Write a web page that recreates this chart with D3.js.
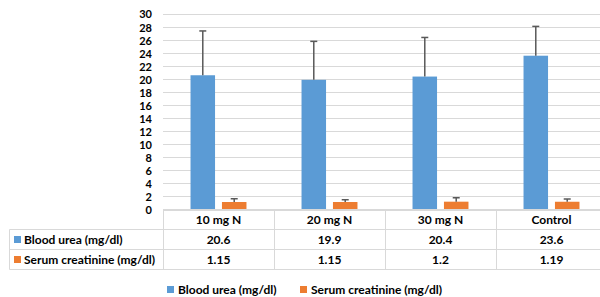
<!DOCTYPE html>
<html><head><meta charset="utf-8">
<script src="https://cdn.jsdelivr.net/npm/d3@7"></script>
<style>body{margin:0;background:#fff}svg{display:block}</style>
</head><body>
<svg id="c" width="600" height="297"></svg>
<script>
const categories = ["10 mg N", "20 mg N", "30 mg N", "Control"];
const seriesNames = ["Blood urea (mg/dl)", "Serum creatinine (mg/dl)"];
const bloodUrea = [20.6, 19.9, 20.4, 23.6];
const serumCreatinine = [1.15, 1.15, 1.2, 1.19];
const bloodUreaErr = [6.8, 5.9, 6.0, 4.5];
const serumCreatinineErr = [0.5, 0.35, 0.6, 0.42];
const bloodUreaLabels = ["20.6", "19.9", "20.4", "23.6"];
const serumCreatinineLabels = ["1.15", "1.15", "1.2", "1.19"];
const yTicks = [0,2,4,6,8,10,12,14,16,18,20,22,24,26,28,30];
const colors = ["#5b9bd5", "#ed7d31"];

(function(){
const svg = d3.select("#c");
const font = "Lato, 'Open Sans', sans-serif";
const pLeft = 163, pRight = 607, pTop = 14, pBottom = 209.5;

const x0 = d3.scaleBand().domain(categories).range([pLeft, pRight]);
const x1 = d3.scaleBand().domain(seriesNames).range([x0.bandwidth()*0.248, x0.bandwidth()*0.752]).paddingInner(0.22);
const y = d3.scaleLinear().domain([0, 30]).range([pBottom, pTop]);

svg.append("g").selectAll("line").data(yTicks).join("line")
  .attr("x1", pLeft).attr("x2", 600)
  .attr("y1", d => Math.round(y(d)) + 0.5).attr("y2", d => Math.round(y(d)) + 0.5)
  .attr("stroke", "#d9d9d9").attr("stroke-width", 1);

const yAxis = d3.axisLeft(y).tickValues(yTicks).tickSize(0).tickPadding(0);
const ga = svg.append("g").attr("transform", `translate(152,0)`).call(yAxis);
ga.select(".domain").remove();
ga.selectAll("text").attr("font-family", font).attr("font-weight", "bold")
  .attr("font-size", 11).attr("fill", "#000").attr("dy", "0.36em");

const data = categories.map((c, i) => ({
  cat: c,
  vals: [
    {s: seriesNames[0], v: bloodUrea[i], e: bloodUreaErr[i], col: colors[0]},
    {s: seriesNames[1], v: serumCreatinine[i], e: serumCreatinineErr[i], col: colors[1]}
  ]
}));

const groups = svg.append("g").selectAll("g").data(data).join("g")
  .attr("transform", d => `translate(${x0(d.cat)},0)`);
groups.selectAll("rect").data(d => d.vals).join("rect")
  .attr("x", d => x1(d.s)).attr("width", x1.bandwidth())
  .attr("y", d => y(d.v)).attr("height", d => y(0) - y(d.v))
  .attr("fill", d => d.col);

const eb = groups.selectAll("g.err").data(d => d.vals).join("g").attr("class", "err");
eb.append("line")
  .attr("x1", d => x1(d.s) + x1.bandwidth()/2).attr("x2", d => x1(d.s) + x1.bandwidth()/2)
  .attr("y1", d => y(d.v)).attr("y2", d => y(d.v + d.e))
  .attr("stroke", "#595959").attr("stroke-width", 1.5);
eb.append("line")
  .attr("x1", d => x1(d.s) + x1.bandwidth()/2 - 3.5).attr("x2", d => x1(d.s) + x1.bandwidth()/2 + 3.5)
  .attr("y1", d => y(d.v + d.e)).attr("y2", d => y(d.v + d.e))
  .attr("stroke", "#595959").attr("stroke-width", 1.5);

const rowH = 20;
const tbl = svg.append("g");
const lineCol = "#d9d9d9";
const t0 = 209.5;
tbl.append("line").attr("x1", pLeft).attr("x2", 600).attr("y1", t0).attr("y2", t0).attr("stroke", lineCol);
[1,2,3].forEach(r => {
  tbl.append("line").attr("x1", 9.5).attr("x2", 600).attr("y1", t0 + r*rowH).attr("y2", t0 + r*rowH).attr("stroke", lineCol);
});
tbl.append("line").attr("x1", 9.5).attr("x2", 9.5).attr("y1", t0 + rowH).attr("y2", t0 + 3*rowH).attr("stroke", lineCol);
categories.forEach(c => {
  const xx = Math.round(x0(c)) + 0.5;
  tbl.append("line").attr("x1", xx).attr("x2", xx).attr("y1", t0).attr("y2", t0 + 3*rowH).attr("stroke", lineCol);
});
tbl.selectAll("text.h").data(categories).join("text").attr("class", "h")
  .attr("x", d => x0(d) + x0.bandwidth()/2).attr("y", t0 + rowH/2).attr("dy", "0.36em")
  .attr("text-anchor", "middle").attr("font-family", font).attr("font-weight", "bold").attr("font-size", 12)
  .text(d => d);
const rows = [bloodUreaLabels, serumCreatinineLabels];
rows.forEach((labels, r) => {
  tbl.selectAll("text.r" + r).data(labels).join("text").attr("class", "r" + r)
    .attr("x", (d, i) => x0(categories[i]) + x0.bandwidth()/2).attr("y", t0 + (r+1)*rowH + rowH/2).attr("dy", "0.36em")
    .attr("text-anchor", "middle").attr("font-family", font).attr("font-weight", "bold").attr("font-size", 12)
    .text(d => d);
  tbl.append("rect").attr("x", 14).attr("y", t0 + (r+1)*rowH + rowH/2 - 3.5).attr("width", 7).attr("height", 7).attr("fill", colors[r]);
  tbl.append("text").attr("x", 24).attr("y", t0 + (r+1)*rowH + rowH/2).attr("dy", "0.36em")
    .attr("font-family", font).attr("font-weight", "bold").attr("font-size", 12).text(seriesNames[r]);
});

const legX = [167, 300];
seriesNames.forEach((s, i) => {
  svg.append("rect").attr("x", legX[i]).attr("y", 286).attr("width", 7).attr("height", 7).attr("fill", colors[i]);
  svg.append("text").attr("x", legX[i] + 11).attr("y", 289.5).attr("dy", "0.36em")
    .attr("font-family", font).attr("font-weight", "bold").attr("font-size", 12).text(s);
});
})();
</script>
</body></html>
